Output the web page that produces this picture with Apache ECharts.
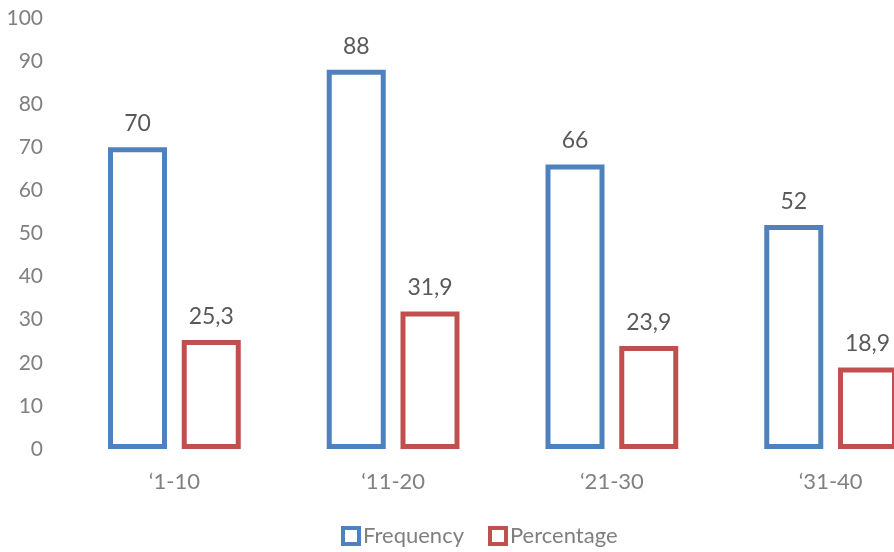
<!DOCTYPE html>
<html>
<head>
<meta charset="utf-8">
<script src="https://cdn.jsdelivr.net/npm/echarts@6/dist/echarts.min.js"></script>
<style>
  html, body { margin: 0; padding: 0; background: #fff; }
  #chart { width: 894px; height: 552px; }
</style>
</head>
<body>
<div id="chart"></div>
<script>
// data
const categories = ["\u20181-10", "\u201811-20", "\u201821-30", "\u201831-40"];
const frequency = [70, 88, 66, 52];
const percentage = [25.3, 31.9, 23.9, 18.9];
const yTicks = { min: 0, max: 100, step: 10 };

const chart = echarts.init(document.getElementById("chart"));
const font = "Lato, 'Open Sans', sans-serif";

// labels use a comma as decimal mark
const fmt = p => String(p.value).replace(".", ",");

chart.setOption({
  animation: false,
  textStyle: { fontFamily: font },
  // the original picture is cut off on the right, so the grid runs past the edge
  grid: { left: 65, top: 18, width: 875, bottom: 103, outerBoundsMode: "none", containLabel: false },
  legend: {
    left: 336,
    bottom: 0,
    itemWidth: 16,
    itemHeight: 16,
    itemGap: 24,
    icon: "rect",
    itemStyle: { borderWidth: 4 },
    textStyle: { color: "#7f7f7f", fontSize: 22, fontFamily: font, padding: [0, 0, 0, -1] },
    data: ["Frequency", "Percentage"]
  },
  xAxis: {
    type: "category",
    data: categories,
    axisLine: { show: false },
    axisTick: { show: false },
    axisLabel: { color: "#808080", fontSize: 22, margin: 22, fontFamily: font }
  },
  yAxis: {
    type: "value",
    min: yTicks.min,
    max: yTicks.max,
    interval: yTicks.step,
    splitLine: { show: false },
    axisLine: { show: false },
    axisTick: { show: false },
    axisLabel: { color: "#808080", fontSize: 21, margin: 22, fontFamily: font }
  },
  series: [
    {
      name: "Frequency",
      type: "bar",
      data: frequency,
      barWidth: 59,
      barGap: "25%",
      itemStyle: { color: "#fff", borderColor: "#4F81BD", borderWidth: 5 },
      label: { show: true, position: "top", distance: 12, color: "#595959", fontSize: 23, formatter: fmt }
    },
    {
      name: "Percentage",
      type: "bar",
      data: percentage,
      barWidth: 59,
      itemStyle: { color: "#fff", borderColor: "#C0504D", borderWidth: 5 },
      label: { show: true, position: "top", distance: 12, color: "#595959", fontSize: 23, formatter: fmt }
    }
  ]
});
</script>
</body>
</html>
